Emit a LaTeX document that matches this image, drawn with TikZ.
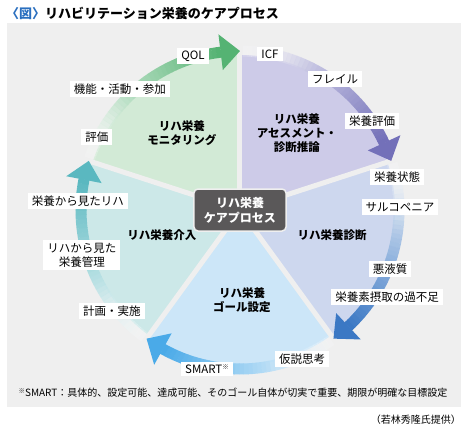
\documentclass[tikz,border=0pt]{standalone}
\usepackage{fontspec}
\setmainfont{Noto Sans CJK JP}
\definecolor{panel}{HTML}{EFEFEF}
\definecolor{titleblue}{HTML}{2A6FBF}
\definecolor{careC}{HTML}{5A5859}
% sectors
\definecolor{grS}{HTML}{D2EAD6}
\definecolor{puS}{HTML}{CDCBE8}
\definecolor{blS}{HTML}{CDD7EE}
\definecolor{skS}{HTML}{CCE6F8}
\definecolor{tlS}{HTML}{CCE8E8}
% arrows
\definecolor{grA}{HTML}{55B373}
\definecolor{puA}{HTML}{7370B9}
\definecolor{blA}{HTML}{3B78C4}
\definecolor{skA}{HTML}{4AAAE8}
\definecolor{tlA}{HTML}{5AB8C0}
\newcommand{\kome}{\raisebox{3.5pt}{\fontsize{6.5}{7}\selectfont ※}}

\begin{document}
\begin{tikzpicture}
      [x=1pt,y=1pt,
       tag/.style={fill=white,inner xsep=4pt,inner ysep=3pt,align=center,
                   font=\fontsize{11.5}{14}\selectfont},
       phase/.style={align=center,font=\bfseries\fontsize{11.5}{14}\selectfont}]
  \useasboundingbox (-240,-227) rectangle (231,210);
  \fill[panel] (-233,-197) rectangle (221,187);

  \node[anchor=west,font=\bfseries\fontsize{13}{15}\selectfont,inner sep=0] (title) at (-234,197)
    {{\color{titleblue}〈図〉}リハビリテーション栄養のケアプロセス};

  % five sectors
  \foreach \s/\col in {162/grS,90/puS,18/blS,-54/skS,-126/tlS}
    \fill[\col] (0,0) -- (\s:155) arc[start angle=\s, end angle=\s-72, radius=155] -- cycle;
  \foreach \s in {90,18,-54,-126,162}
    \draw[panel, line width=5] (0,0) -- (\s:157);

  % arrows round the cycle
  \foreach \s/\col in {162/grA,90/puA,18/blA,-54/skA,-126/tlA} {
    \foreach \i in {0,...,39} {
      \pgfmathsetmacro\a{\s-1-\i*1.6}
      \pgfmathtruncatemacro\p{(\i+1)*2.5}
      \pgfmathsetmacro\o{min(1,0.15+(\i+1)/20)}
      \draw[line width=11, \col!\p!white, opacity=\o] (\a:159) arc[start angle=\a, end angle=\a-1.75, radius=159];
    }
    \fill[\col] (\s-65:141) -- (\s-65:177) -- (\s-72:159) -- cycle;
  }

  \node[fill=careC, text=white, draw=panel, line width=1.5, rounded corners=4,
        minimum width=92, minimum height=42, align=center,
        font=\bfseries\fontsize{12}{15}\selectfont] (care) at (0,0) {リハ栄養\\ケアプロセス};

  \node[phase] (monitor) at (-58,77)  {リハ栄養\\モニタリング};
  \node[phase] (assess)  at (57,77)   {リハ栄養\\アセスメント・\\診断推論};
  \node[phase] (diag)    at (92,-25)  {リハ栄養診断};
  \node[phase] (goal)    at (2,-90)   {リハ栄養\\ゴール設定};
  \node[phase] (interv)  at (-78,-25) {リハ栄養介入};

  \node[tag] (qol)     at (-47,154)  {QOL};
  \node[tag] (icf)     at (30,156)   {ICF};
  \node[tag] (frail)   at (95,131)   {フレイル};
  \node[tag] (nutev)   at (132,89)   {栄養評価};
  \node[tag] (nutst)   at (157,33)   {栄養状態};
  \node[tag] (sarco)   at (160,3)    {サルコペニア};
  \node[tag] (cachex)  at (150,-59)  {悪液質};
  \node[tag] (intake)  at (147,-87)  {栄養素摂取の過不足};
  \node[tag] (hypo)    at (62,-149)  {仮説思考};
  \node[tag] (smart)   at (-33,-159) {SMART\kome};
  \node[tag] (plan)    at (-128,-101) {計画・実施};
  \node[tag] (nutmgmt) at (-158,-45) {リハから見た\\栄養管理};
  \node[tag] (rehab)   at (-162,9)   {栄養から見たリハ};
  \node[tag] (review)  at (-143,73)  {評価};
  \node[tag] (func)    at (-120,121) {機能・活動・参加};

  \node[font=\fontsize{10}{12}\selectfont] (note) at (-7,-183)
    {\kome SMART：具体的、設定可能、達成可能、そのゴール自体が切実で重要、期限が明確な目標設定};
  \node[anchor=east,font=\fontsize{10}{12}\selectfont,inner sep=0] (credit) at (221,-210)
    {（若林秀隆氏提供）};
\end{tikzpicture}
\end{document}
